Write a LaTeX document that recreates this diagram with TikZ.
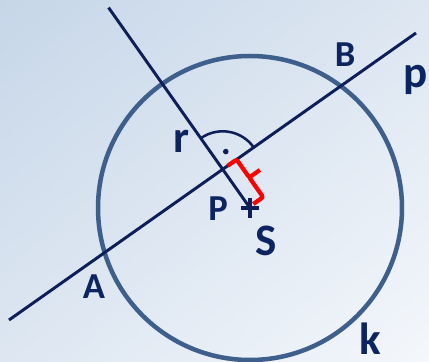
\documentclass[tikz,border=0pt]{standalone}
\usepackage{fontspec}
\setmainfont{Carlito}
\usepackage{tikz}
\usetikzlibrary{calc,shadings}
\definecolor{bgtl}{RGB}{198,214,232}
\definecolor{bgbr}{RGB}{244,247,251}
\definecolor{lnavy}{RGB}{14,30,88}
\definecolor{tnavy}{RGB}{12,36,96}
\definecolor{kblue}{RGB}{62,94,140}
\tikzset{
  ln/.style    = {draw=lnavy, line width=2.1pt},
  kcirc/.style = {draw=kblue, line width=3.2pt},
  lbl/.style   = {font=\fontsize{26}{26}\selectfont\bfseries, text=tnavy, inner sep=0pt},
  lblbig/.style = {lbl, font=\fontsize{32}{32}\selectfont\bfseries},
  redbr/.style = {draw=red, line width=3pt, rounded corners=1.5pt},
}
\begin{document}
\begin{tikzpicture}[x=0.025cm, y=0.025cm]
  % background
  \shade[upper left=bgtl, lower right=bgbr, upper right=bgtl!50!bgbr, lower left=bgtl!50!bgbr]
    (0,0) rectangle (429,362);
  \useasboundingbox (0,0) rectangle (429,362);
  % points
  \coordinate (S) at (250,154);
  \coordinate (p1) at (9,42);
  \coordinate (p2) at (416,329);
  \coordinate (P) at ($(p1)!(S)!(p2)$);
  \coordinate (r1) at ($(S)!5.18!(P)$);
  % circle k
  \draw[kcirc] (S) circle[radius=152];
  % lines p and r
  \draw[ln] (p1) -- (p2);
  \draw[ln] (r1) -- (S);
  % centre mark
  \draw[ln, line width=2.4pt] ($(S)+(-9,0)$) -- ($(S)+(9,0)$) ($(S)+(0,-10)$) -- ($(S)+(0,10)$);
  % right angle
  \draw[draw=lnavy, line width=1.8pt] (P) ++(35.2:38) arc[start angle=35.2, end angle=125.2, radius=38];
  \fill[lnavy] ($(P)+(80.2:18)$) circle[radius=2.8];
  % distance brace
  \begin{scope}[shift={(P)}, rotate=-54.8]
    \draw[redbr] (0,6) |- (22,17) -- (22,30);
    \draw[redbr] (22,17) -| (46,5);
  \end{scope}
  % labels
  \node[lbl] (lblA) at (94,75) {A};
  \node[lbl] (lblB) at (345,307) {B};
  \node[lbl] (lblP) at (218,153) {P};
  \node[lblbig] (lblp) at (416,282) {p};
  \node[lblbig] (lblr) at (181,221) {r};
  \node[lblbig] (lblS) at (266,121) {S};
  \node[lblbig] (lblk) at (370,23) {k};
\end{tikzpicture}
\end{document}
